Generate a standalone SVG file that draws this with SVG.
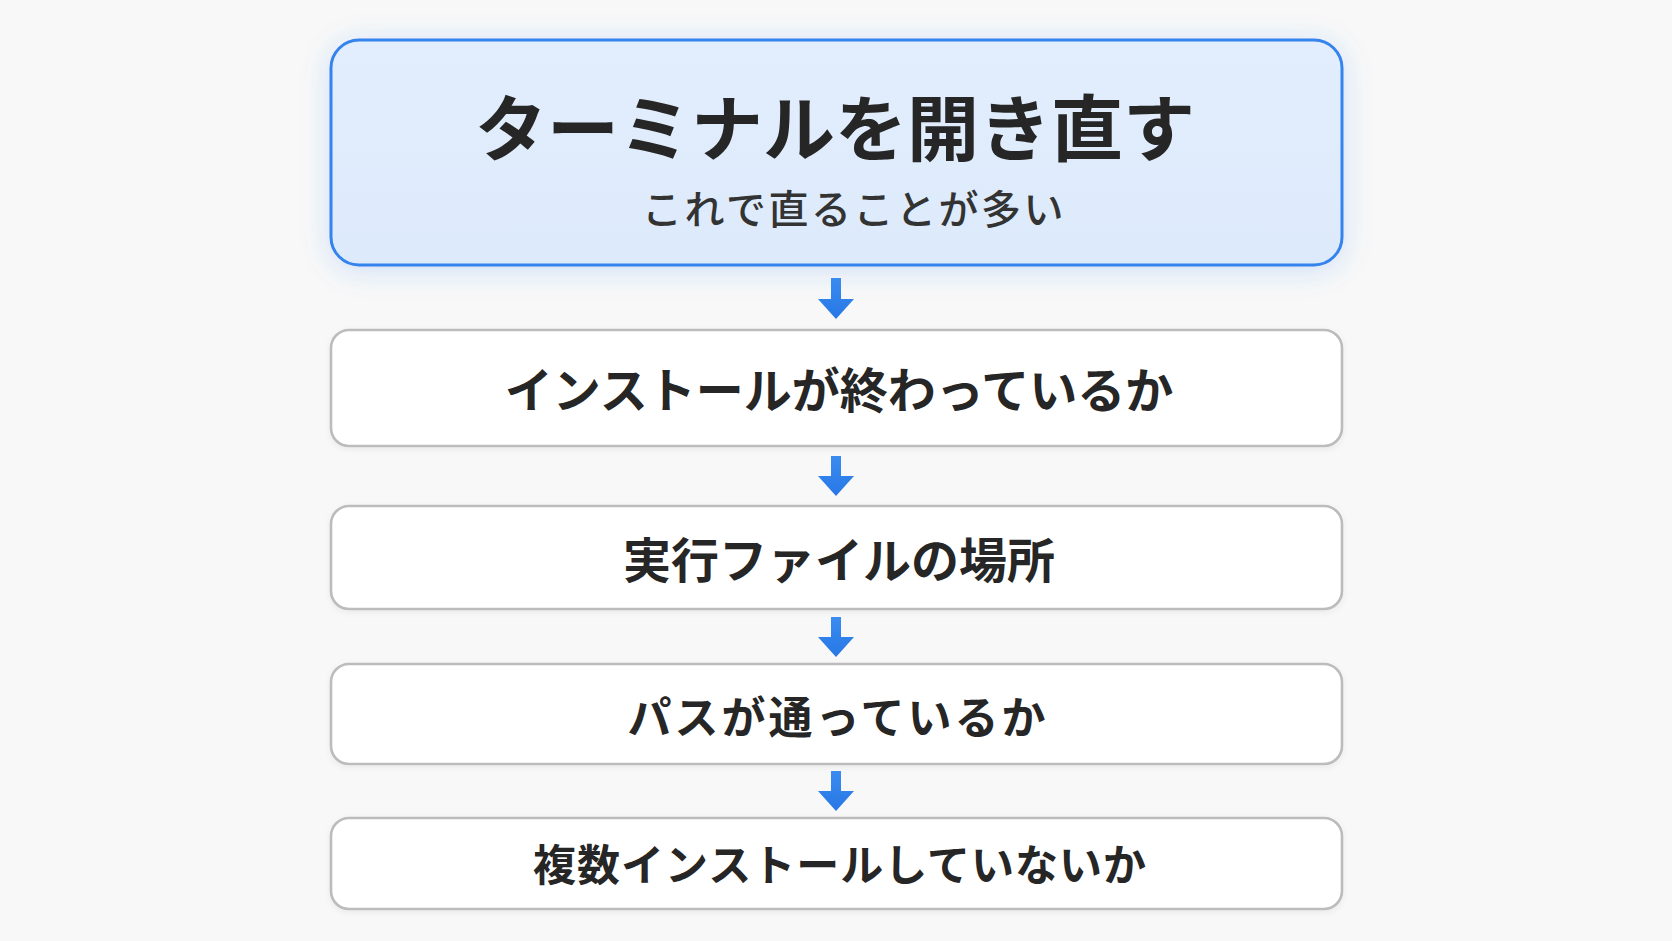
<svg xmlns="http://www.w3.org/2000/svg" width="1672" height="941" viewBox="0 0 1672 941">
  <style>
    .jp { font-family: "Noto Sans CJK JP", "Noto Sans", sans-serif; fill: #262626; text-anchor: middle; }
    .title { font-size: 72px; font-weight: 700; }
    .sub { font-size: 40px; font-weight: 500; fill: #333333; letter-spacing: 2.5px; }
    .step { font-weight: 700; }
    .box { fill: #ffffff; stroke: #bcbcbc; stroke-width: 2.6; }
    .arrow { fill: url(#arrowGrad); }
  </style>
  <defs>
    <linearGradient id="arrowGrad" x1="0" y1="0" x2="0" y2="1">
      <stop offset="0" stop-color="#3a8cf0"/>
      <stop offset="1" stop-color="#2877e6"/>
    </linearGradient>
    <linearGradient id="topFill" x1="0" y1="0" x2="0" y2="1">
      <stop offset="0" stop-color="#e2eefd"/>
      <stop offset="1" stop-color="#ddeafb"/>
    </linearGradient>
    <filter id="glow" x="-10%" y="-30%" width="120%" height="160%">
      <feDropShadow dx="0" dy="4" stdDeviation="14" flood-color="#3b82f6" flood-opacity="0.22"/>
    </filter>
    <filter id="soft" x="-5%" y="-20%" width="110%" height="140%">
      <feDropShadow dx="0" dy="2" stdDeviation="3" flood-color="#000000" flood-opacity="0.06"/>
    </filter>
  </defs>
  <rect x="0" y="0" width="1672" height="941" fill="#f8f8f8"/>

  <g id="node-terminal">
    <rect x="331" y="40" width="1011" height="225" rx="28" fill="url(#topFill)" stroke="#3584ee" stroke-width="3" filter="url(#glow)"/>
    <text class="jp title" x="835" y="155">ターミナルを開き直す</text>
    <text class="jp sub" x="854" y="224">これで直ることが多い</text>
  </g>

  <g id="node-install">
    <rect class="box" x="331" y="330" width="1011" height="116" rx="18" filter="url(#soft)"/>
    <text class="jp step" x="839" y="408" font-size="48">インストールが終わっているか</text>
  </g>

  <g id="node-exe">
    <rect class="box" x="331" y="506" width="1011" height="103" rx="18" filter="url(#soft)"/>
    <text class="jp step" x="839" y="578" font-size="48">実行ファイルの場所</text>
  </g>

  <g id="node-path">
    <rect class="box" x="331" y="664" width="1011" height="100" rx="18" filter="url(#soft)"/>
    <text class="jp step" x="838" y="734" font-size="44" letter-spacing="3">パスが通っているか</text>
  </g>

  <g id="node-multi">
    <rect class="box" x="331" y="818" width="1011" height="91" rx="18" filter="url(#soft)"/>
    <text class="jp step" x="840" y="881" font-size="43" letter-spacing="1">複数インストールしていないか</text>
  </g>

  <g id="connectors">
    <path class="arrow" d="M831 278 h10 v21 h13 l-18 20 l-18 -20 h13 z"/>
    <path class="arrow" d="M831 456 h10 v20 h13 l-18 20 l-18 -20 h13 z"/>
    <path class="arrow" d="M831 617 h10 v20 h13 l-18 20 l-18 -20 h13 z"/>
    <path class="arrow" d="M831 771 h10 v20 h13 l-18 20 l-18 -20 h13 z"/>
  </g>
</svg>
